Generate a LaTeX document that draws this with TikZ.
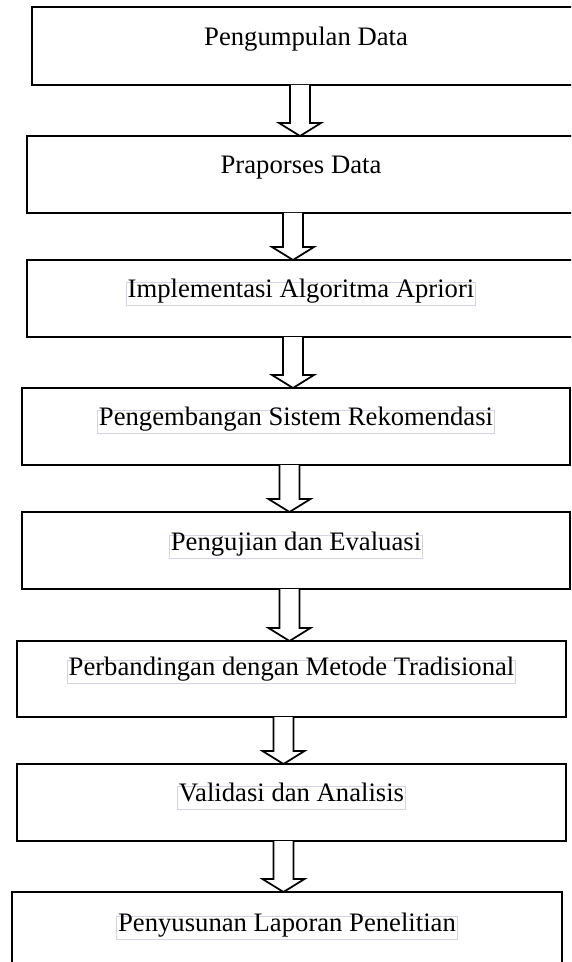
\documentclass[tikz,border=0pt]{standalone}
\usepackage{fontspec}
\setmainfont{Liberation Serif}
\usetikzlibrary{calc,fit}
\definecolor{framecol}{RGB}{212,212,228}
\tikzset{
  stepbox/.style={draw=black, line width=1.8pt, inner sep=0pt, outer sep=0pt, fill=white},
  lblplain/.style={inner xsep=1pt, inner ysep=3.4pt, text height=0.75em, text depth=0.25em, font=\fontsize{20}{23}\selectfont},
  lbl/.style={lblplain, draw=framecol, line width=0.6pt},
  barrow/.style={draw=black, line width=1.3pt, fill=white, line join=miter}
}
\newcommand\blockarrow[3]{%
  \coordinate (s) at ($(#1.south -| 0,0)+(#3,0)$);
  \coordinate (e) at ($(#2.north -| 0,0)+(#3,0)$);
  \draw[barrow] ($(s)+(-10,0)$) -- ($(e)+(-10,-13)$) -- ($(e)+(-21,-13)$) -- (e)
     -- ($(e)+(21,-13)$) -- ($(e)+(10,-13)$) -- ($(s)+(10,0)$);
}
\begin{document}
\begin{tikzpicture}[x=0.75pt, y=-0.75pt]
\useasboundingbox (0,0) rectangle (571,962);
\clip (0,0) rectangle (571,962);
% boxes
\node[stepbox, fit={(32,7) (580,85)}] (b1) {};
\node[stepbox, fit={(27,136) (575,213)}] (b2) {};
\node[stepbox, fit={(27,260) (575,337)}] (b3) {};
\node[stepbox, fit={(22,388) (570,465)}] (b4) {};
\node[stepbox, fit={(22,512) (570,589)}] (b5) {};
\node[stepbox, fit={(17,641) (566,717)}] (b6) {};
\node[stepbox, fit={(17,764) (566,841)}] (b7) {};
\node[stepbox, fit={(12,892) (562,969)}] (b8) {};
% labels
\node[lblplain] (t1) at ($(b1.north)+(0,35)$) {Pengumpulan Data};
\node[lblplain] (t2) at ($(b2.north)+(0,34)$) {Praporses Data};
\node[lbl] (t3) at ($(b3.north)+(0,34)$) {Implementasi Algoritma Apriori};
\node[lbl] (t4) at ($(b4.north)+(0,34)$) {Pengembangan Sistem Rekomendasi};
\node[lbl] (t5) at ($(b5.north)+(0,35)$) {Pengujian dan Evaluasi};
\node[lbl] (t6) at ($(b6.north)+(0,31)$) {Perbandingan dengan Metode Tradisional};
\node[lbl] (t7) at ($(b7.north)+(0,34)$) {Validasi dan Analisis};
\node[lbl] (t8) at ($(b8.north)+(0,36)$) {Penyusunan Laporan Penelitian};
% arrows
\blockarrow{b1}{b2}{300}
\blockarrow{b2}{b3}{293}
\blockarrow{b3}{b4}{293}
\blockarrow{b4}{b5}{289.5}
\blockarrow{b5}{b6}{289.5}
\blockarrow{b6}{b7}{283.5}
\blockarrow{b7}{b8}{283.5}
\end{tikzpicture}
\end{document}
